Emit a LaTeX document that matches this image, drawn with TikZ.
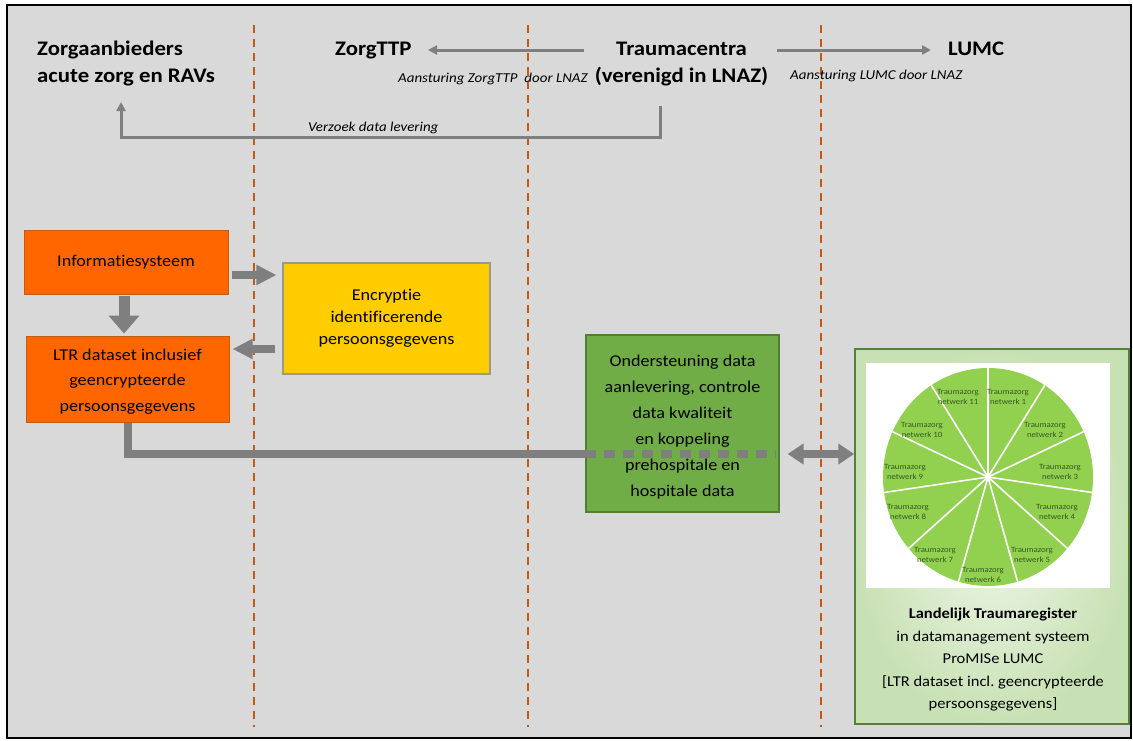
\documentclass[tikz,border=0pt]{standalone}
\usepackage{fontspec}
\setmainfont{Carlito}[FakeStretch=1.1, RawFeature=-liga]
\usetikzlibrary{arrows.meta,calc}
\frenchspacing
\definecolor{bg}{HTML}{D9D9D9}
\definecolor{sepc}{HTML}{C65911}
\definecolor{arrc}{HTML}{7F7F7F}
\definecolor{orangef}{HTML}{FF6600}
\definecolor{oranged}{HTML}{C55A11}
\definecolor{yellowf}{HTML}{FFCC00}
\definecolor{yellowd}{HTML}{9A9A8A}
\definecolor{greenf}{HTML}{70AD47}
\definecolor{greend}{HTML}{507E32}
\definecolor{piec}{HTML}{92D050}
\definecolor{piet}{HTML}{355A25}
\definecolor{lgreen}{HTML}{C8E1B4}
\definecolor{lgreenin}{HTML}{EEF6E8}
\definecolor{lgreend}{HTML}{538135}
\tikzset{
  sepline/.style={draw=sepc, line width=1.6pt, dash pattern=on 8pt off 6pt},
  head/.style={font=\fontsize{20.7}{27}\selectfont\bfseries, inner sep=0pt},
  lab/.style={font=\fontsize{13.6}{15}\selectfont\itshape, inner sep=0pt},
  boxtxt/.style={font=\fontsize{16.5}{25.5}\selectfont, align=center, inner sep=0pt},
  obox/.style={draw=oranged, fill=orangef, line width=1pt, inner sep=0pt},
  ybox/.style={boxtxt, draw=yellowd, fill=yellowf, line width=1.2pt, font=\fontsize{16.5}{22}\selectfont},
  gbox/.style={draw=greend, fill=greenf, line width=1.2pt, inner sep=0pt},
  thinarr/.style={draw=arrc, line width=3pt, -{Triangle[length=9pt,width=9pt]}},
  fatarr/.style={draw=arrc, line width=8pt, -{Triangle[length=20pt,width=19pt]}},
  downarr/.style={draw=arrc, line width=11pt, -{Triangle[length=18pt,width=30pt]}},
  fatline/.style={draw=arrc, line width=8pt, line join=miter},
  fatdash/.style={draw=arrc, line width=8pt, dash pattern=on 11pt off 8pt},
  dblarr/.style={draw=arrc, line width=8pt, {Triangle[length=16pt,width=20pt]}-{Triangle[length=16pt,width=20pt]}},
  pielab/.style={font=\fontsize{8}{10}\selectfont, text=piet, align=center, inner sep=0pt},
}
\begin{document}
\begin{tikzpicture}[x=1pt,y=-1pt]
\useasboundingbox (0,0) rectangle (1133,740);
\fill[white] (0,0) rectangle (1133,740);
\draw[line width=2pt, fill=bg] (7,5) rectangle (1131,738);

% separators
\foreach \x in {254,528,821} \draw[sepline] (\x,25) -- (\x,727);

% headings
\node[head, anchor=base west] (zorg) at (37,55) {Zorgaanbieders};
\node[head, anchor=base west] (zorgb) at (37,82) {acute zorg en RAVs};
\node[head, anchor=base west] (ttp) at (335,55) {ZorgTTP};
\node[head, anchor=base] (tc) at (681.5,55) {Traumacentra};
\node[head, anchor=base] (tcb) at (681.5,82) {(verenigd in LNAZ)};
\node[head, anchor=base west] (lumc) at (948,55) {LUMC};

\coordinate (tcL) at (584,50);
\coordinate (ttpR) at (428,50);
\coordinate (tcR) at (777,50);
\coordinate (lumcL) at (931,50);
\draw[thinarr] (tcL) -- (ttpR);
\draw[thinarr] (tcR) -- (lumcL);

\node[lab, anchor=base west] (l1) at (398,82) {Aansturing ZorgTTP\ \ door LNAZ};
\node[lab, anchor=base west] (l2) at (790,79) {Aansturing LUMC door LNAZ};
\node[lab, anchor=base west] (l3) at (308,131) {Verzoek data levering};

\coordinate (b0) at (660,106);
\coordinate (b1) at (121,102);
\draw[thinarr, line join=miter] (b0) -- ++(0,31) -| (b1);

% boxes
\node[obox, minimum width=204pt, minimum height=64pt] (info) at (126,262) {};
\node[boxtxt] (infot) at (126,262) {Informatiesysteem};
\node[obox, minimum width=203pt, minimum height=86pt] (ltr) at (127.5,379) {};
\node[boxtxt] (ltrt) at (127.5,381.5) {LTR dataset inclusief\\geencrypteerde\\persoonsgegevens};
\node[ybox, minimum width=207pt, minimum height=111pt] (enc) at (386.5,318.5) {Encryptie\\identificerende\\persoonsgegevens};
\node[gbox, minimum width=193pt, minimum height=177pt] (green) at (682.5,423.5) {};
\node[boxtxt, font=\fontsize{16.5}{26}\selectfont] (greent) at (682.5,427.5) {Ondersteuning data\\aanlevering, controle\\data kwaliteit\\en koppeling\\prehospitale en\\hospitale data};

% right box
\node[draw=lgreend, line width=1.5pt, inner color=lgreenin, outer color=lgreen, minimum width=274pt, minimum height=375pt] (rb) at (992,536.5) {};
\fill[white] (866,363) rectangle (1110,588);
\coordinate (pc) at (988,477);
\fill[piec] (pc) ellipse [x radius=105, y radius=109];
\foreach \k in {0,...,10} {
  \pgfmathsetmacro{\t}{\k*360/11}
  \draw[white, line width=1.6pt] (pc) -- ({988+105*sin(\t)},{477-109*cos(\t)});
}
\foreach \n/\px/\py in {1/1008/397, 2/1045/430, 3/1060/472, 4/1057/512, 5/1032/555, 6/983/575, 7/935/555, 8/908/512, 9/905/472, 10/922/430, 11/958/397}
  \node[pielab] (tz\n) at (\px,\py) {Traumazorg\\netwerk \n};

\node[font=\fontsize{15}{22.5}\selectfont, align=center, inner sep=0pt] (rbt) at (993,660)
  {\textbf{Landelijk Traumaregister}\\in datamanagement systeem\\ProMISe LUMC\\{[}LTR dataset incl. geencrypteerde\\persoonsgegevens{]}};

% thick connectors
\draw[fatarr, shorten <=3pt, shorten >=6pt] ([yshift=-13pt]info.east) -- ([yshift=43.5pt]enc.west);
\draw[downarr, shorten <=1pt, shorten >=2pt] ([xshift=-2pt]info.south) -- ([xshift=-3.5pt]ltr.north);
\draw[fatarr, shorten <=7pt, shorten >=3pt] ([yshift=-30.5pt]enc.west) -- ([yshift=30pt]ltr.east);
\draw[fatline] (ltr.south) |- ([yshift=-30.5pt]green.west);
\draw[fatdash] ([yshift=-30.5pt]green.west) -- ([yshift=-30.5pt, xshift=-4pt]green.east);
\draw[dblarr, shorten <=8pt] ([yshift=-30.5pt]green.east) -- ([yshift=82.5pt]rb.west);
\end{tikzpicture}
\end{document}
